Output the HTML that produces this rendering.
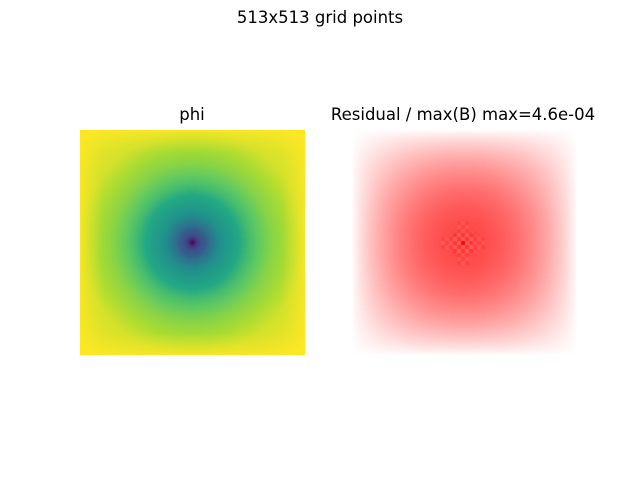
<!DOCTYPE html>
<html><head><meta charset="utf-8"><style>
html,body{margin:0;padding:0;background:#fff;}
#wrap{position:relative;width:640px;height:480px;font-family:"DejaVu Sans","Liberation Sans",sans-serif;}
.t{position:absolute;white-space:nowrap;color:#000;transform:translateX(-50%);font-size:16.5px;}
canvas{position:absolute;}
</style></head><body>
<div id="wrap">
<div class="t" style="left:320px;top:8px;">513x513 grid points</div>
<div class="t" style="left:192px;top:105px;">phi</div>
<div class="t" style="left:463px;top:105px;">Residual / max(B) max=4.6e-04</div>
<canvas id="phi" width="225" height="225" style="left:80px;top:130px;"></canvas>
<canvas id="res" width="225" height="225" style="left:352px;top:130px;"></canvas>
</div>
<script>
// radial profile of phi (normalized distance from center -> colormap fraction)
const radii = [0, 0.04, 0.08, 0.15, 0.25, 0.35, 0.5, 0.7, 0.9, 1.0, 1.42];
const phiVals = [0, 0.22, 0.33, 0.42, 0.5, 0.58, 0.7, 0.82, 0.9, 0.94, 1.0];
// viridis stops
const vStops = [0, 0.13, 0.25, 0.38, 0.5, 0.63, 0.75, 0.88, 1];
const vCols = [[68,1,84],[72,36,117],[65,68,135],[53,95,141],[33,145,140],[34,168,132],[94,201,98],[170,220,50],[253,231,37]];
// residual amplitude profile
const resPeak = 0.72;
const checkerAmp = [0.25, 0.12, 0.07];

function interp(xs, ys, x){
  if(x<=xs[0]) return ys[0];
  for(let i=1;i<xs.length;i++){ if(x<=xs[i]){ const t=(x-xs[i-1])/(xs[i]-xs[i-1]); return ys[i-1]+t*(ys[i]-ys[i-1]); } }
  return ys[ys.length-1];
}
function viridis(v){
  return [0,1,2].map(k=>Math.round(interp(vStops, vCols.map(a=>a[k]), v)));
}
(function(){
  const cv=document.getElementById('phi'),ctx=cv.getContext('2d'),N=225;
  const img=ctx.createImageData(N,N);
  for(let j=0;j<N;j++)for(let i=0;i<N;i++){
    const x=(i+0.5)/N*2-1,y=(j+0.5)/N*2-1;
    const r=Math.sqrt(x*x+y*y);
    let p=interp(radii,phiVals,r);
    const s=Math.pow(Math.min(1,(1-Math.abs(x))*5)*Math.min(1,(1-Math.abs(y))*5),0.5);
    p=1-(1-p)*s;
    const c=viridis(p),o=(j*N+i)*4;
    img.data[o]=c[0];img.data[o+1]=c[1];img.data[o+2]=c[2];img.data[o+3]=255;
  }
  ctx.putImageData(img,0,0);
})();
(function(){
  const cv=document.getElementById('res'),ctx=cv.getContext('2d'),N=225;
  const img=ctx.createImageData(N,N);
  const cx=111,cy=113;
  for(let j=0;j<N;j++)for(let i=0;i<N;i++){
    const x=(i+0.5)/N,y=(j+0.5)/N;
    let a=resPeak*Math.pow(Math.sin(Math.PI*x)*Math.sin(Math.PI*y),0.8);
    const bi=Math.floor((i-cx+2)/4),bj=Math.floor((j-cy+2)/4);
    const d=Math.max(Math.abs(bi),Math.abs(bj));
    if(d<=5 && (Math.abs(bi)<=1||Math.abs(bj)<=1||d<=2)){
      const amp=d===0?checkerAmp[0]:(d<3?checkerAmp[1]:checkerAmp[2]);
      a+=((bi+bj)%2===0?1:-1)*amp*(d===0?1:0.6);
    }
    a=Math.max(0,Math.min(1,a));
    const o=(j*N+i)*4;
    img.data[o]=255;img.data[o+1]=Math.round(255*(1-a));img.data[o+2]=Math.round(255*(1-a));img.data[o+3]=255;
  }
  ctx.putImageData(img,0,0);
})();
</script>
</body></html>
